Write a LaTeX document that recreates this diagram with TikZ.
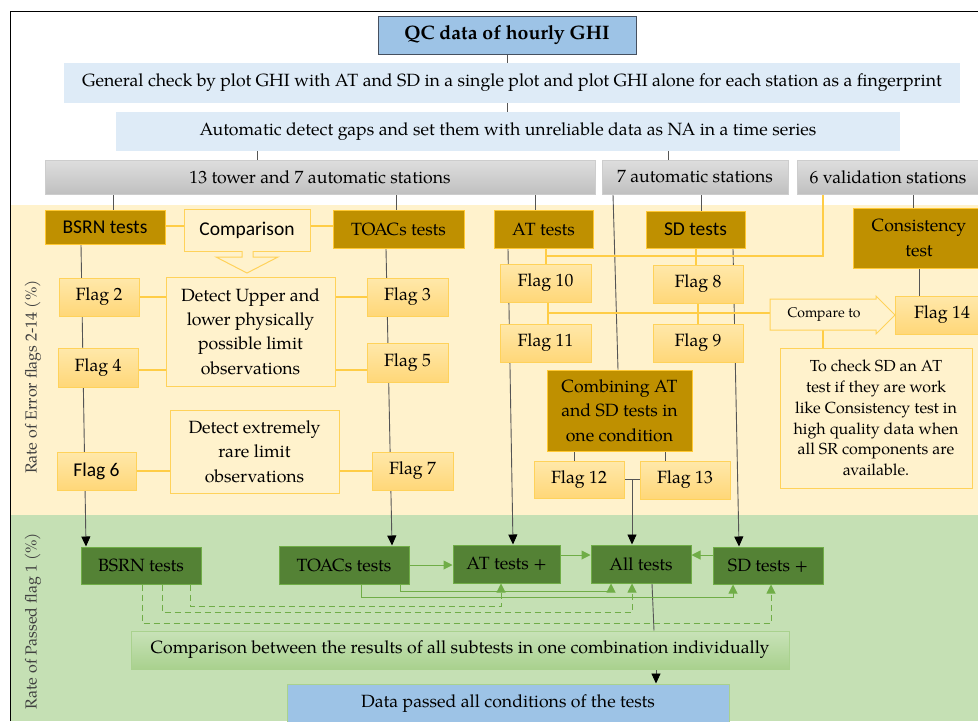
\documentclass[tikz,border=0pt]{standalone}
\usepackage{fontspec}
\setmainfont{TeX Gyre Pagella}
\newfontfamily\sff{Carlito}
\usetikzlibrary{arrows.meta}
\pgfdeclarelayer{bgl}
\pgfdeclarelayer{lns}
\pgfsetlayers{bgl,lns,main}
\definecolor{tblue}{RGB}{157,195,230}
\definecolor{tborder}{RGB}{70,80,95}
\definecolor{lblue}{RGB}{222,235,247}
\definecolor{gtop}{RGB}{222,222,222}
\definecolor{gbot}{RGB}{192,192,192}
\definecolor{gbrd}{RGB}{205,205,205}
\definecolor{bandY}{RGB}{255,242,204}
\definecolor{bandG}{RGB}{197,224,180}
\definecolor{gold}{RGB}{191,144,0}
\definecolor{goldbrd}{RGB}{255,200,50}
\definecolor{ftop}{RGB}{255,232,170}
\definecolor{fbot}{RGB}{255,215,120}
\definecolor{fbrd}{RGB}{255,210,90}
\definecolor{yline}{RGB}{255,205,70}
\definecolor{dgreen}{RGB}{84,130,53}
\definecolor{mgreen}{RGB}{112,173,71}
\definecolor{cgtop}{RGB}{200,226,184}
\definecolor{cgbot}{RGB}{169,209,142}
\definecolor{lgray}{RGB}{85,85,85}
\definecolor{lbltxt}{RGB}{64,64,64}
\newcommand\fA{\fontsize{17.7}{24.4}\selectfont}
\newcommand\fT{\fontsize{19.5}{24}\selectfont\bfseries}
\newcommand\fB{\fontsize{16}{20.7}\selectfont}
\newcommand\fC{\fontsize{14}{16}\selectfont}
\newcommand\fS{\sff\fontsize{19.5}{22}\selectfont}
\newcommand\fL{\fontsize{16}{20}\selectfont}
\tikzset{
  box/.style={inner sep=0pt, align=center, font=\fA, text=black},
  titlebox/.style={box, fill=tblue, draw=tborder, line width=0.8pt, font=\fT},
  lbbox/.style={box, fill=lblue},
  graybox/.style={box, top color=gtop, bottom color=gbot, draw=gbrd, line width=0.8pt},
  goldbox/.style={box, fill=gold, draw=goldbrd, line width=1pt},
  flagbox/.style={box, top color=ftop, bottom color=fbot, draw=fbrd, line width=1pt},
  notebox/.style={box, fill=bandY, draw=fbrd, line width=1pt},
  greenbox/.style={box, fill=dgreen, draw=mgreen, line width=1pt},
  cmpbox/.style={box, top color=cgtop, bottom color=cgbot, draw=cgbot, line width=1pt},
  databox/.style={box, fill=tblue, draw=cgbot, line width=1pt},
  gl/.style={draw=lgray, line width=0.9pt},
  gla/.style={gl, -{Triangle[width=9pt,length=10pt,color=black]}},
  yl/.style={draw=yline, line width=1.3pt},
  gca/.style={draw=mgreen, line width=1pt, -{Triangle[width=9pt,length=9pt]}},
  gcd/.style={gca, dash pattern=on 6pt off 4pt},
  lbl/.style={inner sep=0pt, rotate=90, text=lbltxt, font=\fL}
}
\begin{document}
\begin{tikzpicture}[x=1pt,y=-1pt]
\useasboundingbox (0,0) rectangle (978,721);
\begin{pgfonlayer}{bgl}
\fill[white] (0,0) rectangle (978,721);
\fill[bandY] (10,205) rectangle (978,515);
\fill[bandG] (10,515) rectangle (978,721);
\draw[black, line width=1pt] (10,721) -- (10,11) -- (978,11);
\end{pgfonlayer}

% top part
\node[titlebox, minimum width=258pt, minimum height=38pt] (title) at (507,35) {QC data of hourly GHI};
\node[lbbox, minimum width=896pt, minimum height=40pt] (gen) at (512,83) {General check by plot GHI with AT and SD in a single plot and plot GHI alone for each station as a fingerprint};
\node[lbbox, minimum width=784pt, minimum height=39pt] (auto) at (508,131.5) {Automatic detect gaps and set them with unreliable data as NA in a time series};
\node[graybox, minimum width=550pt, minimum height=34pt] (tower) at (320,177) {13 tower and 7 automatic stations};
\node[graybox, minimum width=186pt, minimum height=34pt] (seven) at (695,177) {7 automatic stations};
\node[graybox, minimum width=182pt, minimum height=34pt] (six) at (888,177) {6 validation stations};

% test boxes
\node[goldbox, font=\fS, minimum width=120pt, minimum height=34pt] (bsrn) at (105,227) {BSRN tests};
\node[notebox, font=\fS, minimum width=126pt, minimum height=42pt] (cmpn) at (247,230) {Comparison};
\node[goldbox, minimum width=131pt, minimum height=38pt] (toacs) at (398.5,229) {TOACs tests};
\node[goldbox, minimum width=99pt, minimum height=38pt] (at) at (543.5,229) {AT tests};
\node[goldbox, font=\fS, minimum width=99pt, minimum height=37pt] (sd) at (695.5,229.5) {SD tests};
\node[goldbox, minimum width=132pt, minimum height=60pt] (cons) at (919,238) {Consistency\\test};

% flags
\node[flagbox, minimum width=80pt, minimum height=38pt] (f2) at (99,297) {Flag 2};
\node[flagbox, minimum width=80pt, minimum height=39pt] (f4) at (98,367.5) {Flag 4};
\node[flagbox, font=\fS, minimum width=79pt, minimum height=38pt] (f6) at (96.5,471) {Flag 6};
\node[flagbox, minimum width=81pt, minimum height=38pt] (f3) at (407.5,297) {Flag 3};
\node[flagbox, minimum width=81pt, minimum height=39pt] (f5) at (407.5,362.5) {Flag 5};
\node[flagbox, minimum width=81pt, minimum height=38pt] (f7) at (412.5,471) {Flag 7};
\node[notebox, minimum width=169pt, minimum height=109pt] (detU) at (250.5,331.5) {Detect Upper and\\lower physically\\possible limit\\observations};
\node[notebox, minimum width=169pt, minimum height=83pt] (detX) at (254.5,451.5) {Detect extremely\\rare limit\\observations};
\filldraw[fill=bandY, draw=fbrd, line width=1pt] (242,251) -- (242,257) -- (216,257) -- (247,273) -- (278,257) -- (253,257) -- (253,251);

\node[flagbox, minimum width=91pt, minimum height=38pt] (f10) at (545.5,283) {Flag 10};
\node[flagbox, minimum width=91pt, minimum height=38pt] (f11) at (545.5,343) {Flag 11};
\node[flagbox, minimum width=90pt, minimum height=38pt] (f8) at (698,284) {Flag 8};
\node[flagbox, minimum width=90pt, minimum height=38pt] (f9) at (698,343) {Flag 9};
\node[goldbox, minimum width=145pt, minimum height=81pt] (comb) at (619.5,410.5) {Combining AT\\and SD tests in\\one condition};
\node[flagbox, minimum width=90pt, minimum height=37pt] (f12) at (579,479.5) {Flag 12};
\node[flagbox, minimum width=90pt, minimum height=38pt] (f13) at (685,480) {Flag 13};
\node[flagbox, minimum width=94pt, minimum height=38pt] (f14) at (942,315) {Flag 14};
\node[notebox, font=\fB, minimum width=192pt, minimum height=140pt] (tbox) at (876,418) {To check SD an AT\\test if they are work\\like Consistency test in\\high quality data when\\all SR components are\\available.};
\filldraw[fill=bandY, draw=fbrd, line width=1pt] (770,299) -- (876,299) -- (876,296) -- (895,315) -- (876,334) -- (876,330) -- (770,330) -- cycle;
\node[box, font=\fC, minimum width=106pt, minimum height=31pt] (cmp) at (824,314.5) {Compare to};

% green part
\node[greenbox, minimum width=120pt, minimum height=37pt] (gB) at (141,565.5) {BSRN tests};
\node[greenbox, minimum width=130pt, minimum height=38pt] (gT) at (344,565) {TOACs tests};
\node[greenbox, minimum width=107pt, minimum height=38pt] (gA) at (506.5,564) {AT tests +};
\node[greenbox, minimum width=100pt, minimum height=38pt] (gAll) at (641,564) {All tests};
\node[greenbox, minimum width=110pt, minimum height=37pt] (gS) at (768,565.5) {SD tests +};
\node[cmpbox, minimum width=658pt, minimum height=38pt] (cmpAll) at (460,650) {Comparison between the results of all subtests in one combination individually};
\node[databox, minimum width=442pt, minimum height=40pt] (data) at (508,704) {Data passed all conditions of the tests};

\node[lbl] (lE) at (33,377) {Rate of Error flags 2-14 (\%)};
\node[lbl] (lP) at (33,621) {Rate of Passed flag 1 (\%)};

\begin{pgfonlayer}{lns}
\draw[gl] (title.south) -- (title.south |- gen.north);
\draw[gl] (gen.south -| 507,0) -- (auto.north -| 507,0);
\draw[gl] (auto.south -| 257,0) -- (tower.north -| 257,0);
\draw[gl] (auto.south -| 668,0) -- (seven.north -| 668,0);
\draw[gl] (tower.south -| 113,0) -- (bsrn.north -| 113,0);
\draw[gl] (tower.south -| 396,0) -- (toacs.north -| 396,0);
\draw[gl] (tower.south -| 535,0) -- (at.north -| 535,0);
\draw[gl] (seven.south -| 613,0) -- (comb.north -| 618,0);
\draw[gl] (seven.south -| 701,0) -- (sd.north -| 701,0);
\draw[gl] (six.south -| 913,0) -- (cons.north -| 913,0);
\draw[gl] (cons.south -| 919,0) -- (f14.north -| 919,0);
\draw[gla] (bsrn.south -| 81,0) -- (gB.north -| 86,0);
\draw[gla] (toacs.south -| 386,0) -- (gT.north -| 392,0);
\draw[gla] (at.south -| 508,0) -- (gA.north -| 513,0);
\draw[gla] (sd.south -| 733,0) -- (gS.north -| 739,0);
\draw[gl] (comb.south -| 574,0) -- (f12.north -| 574,0);
\draw[gl] (comb.south -| 665,0) -- (f13.north -| 665,0);
\draw[gl] (f12.east) -- (f13.west |- f12.east);
\coordinate (j) at (632,479.5);
\draw[gla] (j) -- (gAll.north -| j);
\draw[gl] (gAll.south -| 652,0) -- (cmpAll.north -| 654,0);
\draw[gla] (cmpAll.south -| 656,0) -- (data.north -| 656,0);

\draw[yl] (bsrn.east |- 0,226) -- (cmpn.west |- 0,226);
\draw[yl] (cmpn.east |- 0,226) -- (toacs.west |- 0,226);
\draw[yl] (f2.east) -- (detU.west |- f2.east);
\draw[yl] (f4.east |- 0,370) -- (detU.west |- 0,370);
\draw[yl] (detU.east |- f3.west) -- (f3.west);
\draw[yl] (detU.east |- 0,370) -- (f5.west |- 0,370);
\draw[yl] (f6.east) -- (detX.west |- f6.east);
\draw[yl] (detX.east |- f7.west) -- (f7.west);
\draw[yl] (at.south -| 546,0) -- (f10.north -| 546,0);
\draw[yl] (sd.south -| 696,0) -- (f8.north -| 696,0);
\draw[yl] (six.south -| 823,0) |- (546,256);
\draw[yl] (f10.south -| 548,0) -- (f11.north -| 548,0);
\draw[yl] (f8.south -| 698,0) -- (f9.north -| 698,0);
\draw[yl] (548,313) -- (cmp.west |- 0,313);
\draw[yl] (cmp.south -| 823,0) -- (tbox.north -| 823,0);

\draw[gca] (gT.east) -- (gA.west |- gT.east);
\draw[gca] (gA.east |- 0,555) -- (gAll.west |- 0,555);
\draw[gca] (gS.west |- 0,555) -- (gAll.east |- 0,555);
\draw[gca] (gT.south -| 400,0) -- (400,591) -- (611,591) -- (gAll.south -| 611,0);
\draw[gca] (gT.south -| 361,0) -- (361,597) -- (733,597) -- (gS.south -| 733,0);
\draw[gcd] (gB.south -| 190,0) -- (190,606) -- (501,606) -- (gA.south -| 501,0);
\draw[gcd] (gB.south -| 162,0) -- (162,612) -- (632,612) -- (gAll.south -| 632,0);
\draw[gcd] (gB.south -| 142,0) -- (142,623) -- (771,623) -- (gS.south -| 771,0);
\end{pgfonlayer}
\end{tikzpicture}
\end{document}
